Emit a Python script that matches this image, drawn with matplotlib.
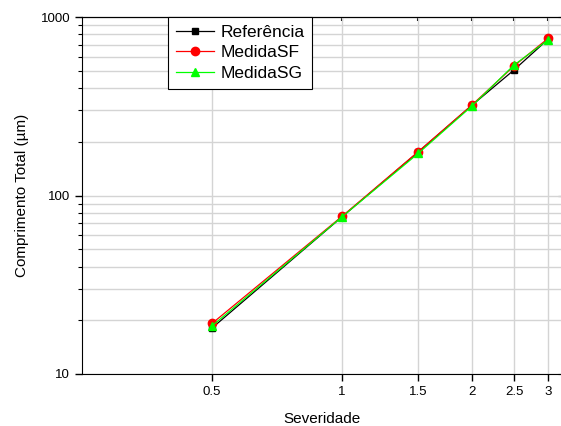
import matplotlib
matplotlib.use('Agg')
from matplotlib import pyplot as plt
from matplotlib.ticker import FixedLocator, NullFormatter, LogLocator, NullLocator

plt.rcParams['font.family'] = ['Liberation Sans', 'DejaVu Sans']

severidade = [0.5, 1, 1.5, 2, 2.5, 3]
referencia = [18.1, 76, 175, 321, 505, 752]
medida_sf = [19.2, 76.5, 176, 322, 532, 760]
medida_sg = [18.6, 76, 172, 318, 538, 745]
xtick_labels = ['0.5', '1', '1.5', '2', '2.5', '3']
ytick_vals = [10, 100, 1000]

fig = plt.figure(figsize=(5.61, 4.26), dpi=100)
ax = fig.add_axes([82 / 561, 52 / 426, 479.5 / 561, 357 / 426])

ax.plot(severidade, referencia, color='black', lw=0.9, marker='s', ms=4.8,
        label='Referência')
ax.plot(severidade, medida_sf, color='red', lw=0.9, marker='o', ms=6,
        label='MedidaSF')
ax.plot(severidade, medida_sg, color='#00ff00', lw=0.9, marker='^', ms=6,
        label='MedidaSG')

ax.set_xscale('log')
ax.set_yscale('log')
ax.set_xlim(0.25, 3.22)
ax.set_ylim(10, 1000)

ax.xaxis.set_major_locator(FixedLocator(severidade))
ax.set_xticklabels(xtick_labels)
ax.xaxis.set_minor_locator(NullLocator())
ax.yaxis.set_major_locator(FixedLocator(ytick_vals))
ax.set_yticklabels([str(v) for v in ytick_vals])
ax.yaxis.set_minor_locator(LogLocator(base=10, subs=range(2, 10)))
ax.yaxis.set_minor_formatter(NullFormatter())

ax.grid(True, which='both', color='#d4d4d4', lw=1)
ax.set_axisbelow(True)
ax.spines['right'].set_visible(False)
ax.tick_params(which='major', length=5, width=1, labelsize=9.5)
ax.tick_params(which='minor', length=3, width=0.8)

# inward ticks on top and right
top = ax.secondary_xaxis('top')
top.xaxis.set_major_locator(FixedLocator(severidade))
top.xaxis.set_minor_locator(NullLocator())
top.set_xticklabels([])
top.tick_params(direction='in', length=3, width=1.5)

right = ax.secondary_yaxis('right')
right.yaxis.set_major_locator(FixedLocator(ytick_vals))
right.yaxis.set_minor_locator(LogLocator(base=10, subs=range(2, 10)))
right.yaxis.set_major_formatter(NullFormatter())
right.yaxis.set_minor_formatter(NullFormatter())
right.tick_params(which='both', direction='in', length=3)
right.spines['right'].set_visible(False)

ax.set_xlabel('Severidade', fontsize=11, labelpad=10)
ax.set_ylabel('Comprimento Total (µm)', fontsize=11, labelpad=8)

leg = ax.legend(loc='upper left', bbox_to_anchor=(0.18, 1.0), fontsize=12.5,
                fancybox=False, edgecolor='black', framealpha=1,
                handlelength=2.2, borderpad=0.45, labelspacing=0.3,
                handletextpad=0.35, borderaxespad=0)
leg.get_frame().set_linewidth(0.8)

fig.savefig('out.png', dpi=100)
